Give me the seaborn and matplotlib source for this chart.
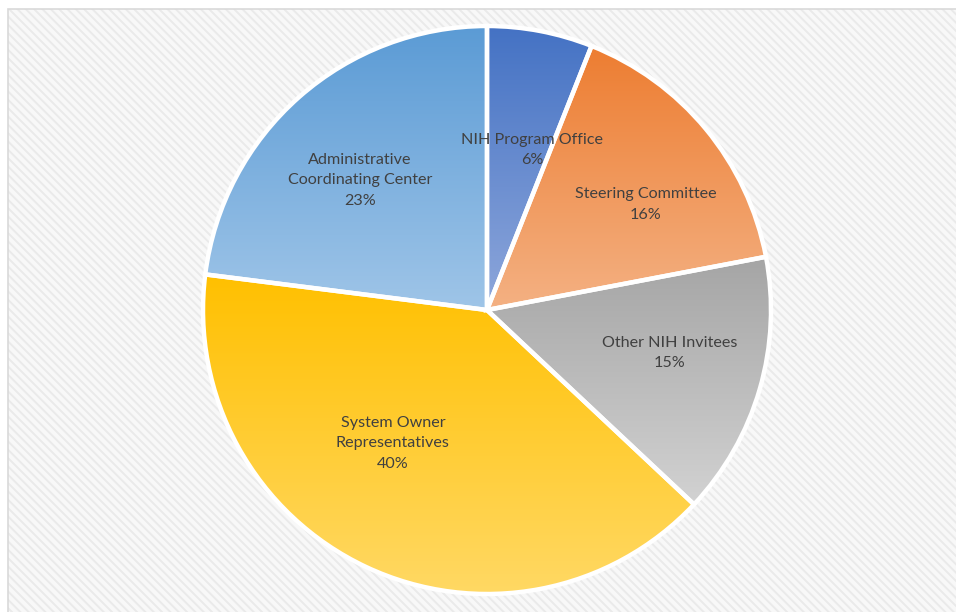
import numpy as np
import matplotlib
matplotlib.use("Agg")
import matplotlib.pyplot as plt
from matplotlib.patches import Rectangle
import seaborn as sns

# slices, clockwise from 12 o'clock
labels = ["NIH Program Office", "Steering Committee", "Other NIH Invitees",
          "System Owner\nRepresentatives", "Administrative\nCoordinating Center"]
shares = [6, 16, 15, 40, 23]

# gradient (top -> bottom of each slice)
top_colors = ["#4472C4", "#ED7D31", "#A5A5A5", "#FFC000", "#5B9BD5"]
bottom_colors = ["#8EA7DB", "#F4B183", "#D2D2D2", "#FFD966", "#9FC5E8"]

# label placement: radius as fraction, angle nudge in degrees (clockwise)
label_r = [0.585, 0.67, 0.66, 0.575, 0.64]
label_nudge = [5, 6, -3, 10, -3]

sns.set_theme(style="white")
plt.rcParams['font.family'] = ['Lato', 'DejaVu Sans']
plt.rcParams['hatch.linewidth'] = 1.4
plt.rcParams['hatch.color'] = '#EAEAEA'

W, H = 956, 612
fig = plt.figure(figsize=(W / 100, H / 100), dpi=100)
fig.patch.set_facecolor("white")

# chart area with diagonal hatching
x0, ytop = 8, 9
bg = Rectangle((x0 / W, -0.01), 1.02 - x0 / W, 1.01 - ytop / H,
               transform=fig.transFigure, facecolor="#F8F8F8",
               edgecolor="#EAEAEA", linewidth=0, hatch="\\\\\\\\", zorder=-2)
fig.patches.append(bg)
frame = Rectangle((x0 / W, -0.01), 1.02 - x0 / W, 1.01 - ytop / H,
                  transform=fig.transFigure, facecolor="none",
                  edgecolor="#D9D9D9", linewidth=1.2, zorder=-1)
fig.patches.append(frame)

cx, cy, r = 487, 310, 284
ax = fig.add_axes([(cx - r) / W, (H - cy - r) / H, 2 * r / W, 2 * r / H])
ax.set_zorder(2)
ax.set_axis_off()
ax.patch.set_alpha(0)

wedges, _ = ax.pie(shares, startangle=90, counterclock=False, radius=1,
                   colors=top_colors,
                   wedgeprops=dict(edgecolor="white", linewidth=3.2))

for w, c1, c2 in zip(wedges, top_colors, bottom_colors):
    verts = w.get_path().vertices
    xmn, ymn = verts.min(axis=0)
    xmx, ymx = verts.max(axis=0)
    cmap = sns.blend_palette([c1, c2], as_cmap=True)
    grad = np.linspace(0, 1, 256).reshape(-1, 1)
    im = ax.imshow(grad, cmap=cmap, extent=[xmn, xmx, ymn, ymx],
                   origin="upper", aspect="auto", zorder=1.5)
    im.set_clip_path(w)
    w.set_facecolor("none")
    w.set_zorder(2)

ax.set_xlim(-1, 1)
ax.set_ylim(-1, 1)

start = 0.0
total = float(sum(shares))
for lab, s, lr, nd in zip(labels, shares, label_r, label_nudge):
    mid = (start + s / 2) / total * 360 + nd
    start += s
    th = np.deg2rad(90 - mid)
    ax.text(lr * np.cos(th), lr * np.sin(th), f"{lab}\n{s}%",
            ha="center", va="center", fontsize=11.6, color="#404040",
            linespacing=1.6, zorder=3)

fig.savefig("out.png", dpi=100)
